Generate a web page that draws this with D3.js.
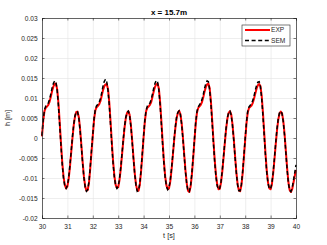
<!DOCTYPE html>
<html lang="en">

<head>
  <title>x = 15.7m</title>
  <meta charset="UTF-8">
  <style>
    body { margin: 0; background: #fff; }
    svg { display: block; font-family: "Liberation Sans", Arial, sans-serif; }
  </style>
</head>

<body>
  <div class="container"></div>
  <script src="https://cdn.jsdelivr.net/npm/d3@7"></script>
  <script>
    // sampling of both series: t = t0 + i * dt
    var t0 = 30, dt = 0.05;
    var tTicks = [30, 31, 32, 33, 34, 35, 36, 37, 38, 39, 40];
    var hTicks = [-0.02, -0.015, -0.01, -0.005, 0, 0.005, 0.01, 0.015, 0.02, 0.025, 0.03];
    var seriesNames = ['EXP', 'SEM'];

    var hExp = [
      0.0004, 0.0045, 0.0068, 0.0076, 0.0079, 0.0083, 0.0091, 0.0104, 0.0118, 0.0129,
      0.0135, 0.0136, 0.0121, 0.0085, 0.0036, -0.0016, -0.0063, -0.0098, -0.0118, -0.0126,
      -0.0121, -0.0102, -0.0072, -0.0036, 0.0000, 0.0032, 0.0054, 0.0065, 0.0066, 0.0052,
      0.0022, -0.0018, -0.0060, -0.0096, -0.0121, -0.0132, -0.0130, -0.0112, -0.0076, -0.0034,
      0.0006, 0.0046, 0.0069, 0.0077, 0.0080, 0.0084, 0.0092, 0.0105, 0.0119, 0.0129,
      0.0134, 0.0135, 0.0122, 0.0088, 0.0040, -0.0012, -0.0059, -0.0095, -0.0117, -0.0125,
      -0.0123, -0.0106, -0.0078, -0.0043, -0.0007, 0.0026, 0.0050, 0.0063, 0.0067, 0.0058,
      0.0032, -0.0006, -0.0048, -0.0087, -0.0116, -0.0131, -0.0132, -0.0117, -0.0084, -0.0042,
      0.0002, 0.0042, 0.0067, 0.0076, 0.0079, 0.0083, 0.0090, 0.0103, 0.0117, 0.0128,
      0.0134, 0.0136, 0.0124, 0.0090, 0.0042, -0.0010, -0.0058, -0.0096, -0.0119, -0.0128,
      -0.0126, -0.0109, -0.0080, -0.0045, -0.0008, 0.0025, 0.0050, 0.0063, 0.0068, 0.0060,
      0.0036, 0.0000, -0.0042, -0.0082, -0.0114, -0.0132, -0.0135, -0.0122, -0.0092, -0.0052,
      -0.0008, 0.0034, 0.0063, 0.0075, 0.0079, 0.0083, 0.0090, 0.0102, 0.0116, 0.0127,
      0.0134, 0.0136, 0.0125, 0.0092, 0.0045, -0.0007, -0.0055, -0.0093, -0.0117, -0.0128,
      -0.0127, -0.0111, -0.0083, -0.0048, -0.0011, 0.0023, 0.0049, 0.0063, 0.0067, 0.0059,
      0.0034, -0.0002, -0.0044, -0.0084, -0.0115, -0.0131, -0.0133, -0.0119, -0.0088, -0.0047,
      -0.0004, 0.0036, 0.0064, 0.0075, 0.0078, 0.0081, 0.0088, 0.0099, 0.0112, 0.0124,
      0.0132, 0.0135, 0.0130, 0.0105, 0.0062, 0.0012, -0.0040, -0.0083, -0.0112, -0.0126,
      -0.0128, -0.0116, -0.0090, -0.0055, -0.0017, 0.0018, 0.0045, 0.0061, 0.0066, 0.0062,
      0.0043, 0.0010, -0.0032, -0.0075, -0.0110, -0.0130, -0.0135, -0.0128, -0.0112, -0.0095,
      -0.0080
    ];

    var hSem = [
      0.0006, 0.0048, 0.0071, 0.0080, 0.0083, 0.0088, 0.0097, 0.0111, 0.0126, 0.0137,
      0.0143, 0.0139, 0.0117, 0.0078, 0.0028, -0.0023, -0.0069, -0.0102, -0.0120, -0.0126,
      -0.0119, -0.0099, -0.0068, -0.0032, 0.0004, 0.0035, 0.0056, 0.0066, 0.0065, 0.0050,
      0.0019, -0.0022, -0.0064, -0.0099, -0.0123, -0.0133, -0.0129, -0.0109, -0.0072, -0.0030,
      0.0009, 0.0049, 0.0072, 0.0081, 0.0084, 0.0089, 0.0098, 0.0113, 0.0129, 0.0141,
      0.0147, 0.0140, 0.0118, 0.0081, 0.0032, -0.0019, -0.0065, -0.0099, -0.0119, -0.0126,
      -0.0121, -0.0103, -0.0074, -0.0039, -0.0003, 0.0029, 0.0052, 0.0064, 0.0067, 0.0056,
      0.0029, -0.0010, -0.0052, -0.0090, -0.0118, -0.0133, -0.0131, -0.0114, -0.0080, -0.0038,
      0.0005, 0.0045, 0.0070, 0.0080, 0.0083, 0.0088, 0.0096, 0.0110, 0.0125, 0.0137,
      0.0144, 0.0140, 0.0120, 0.0083, 0.0034, -0.0017, -0.0064, -0.0100, -0.0121, -0.0129,
      -0.0124, -0.0106, -0.0076, -0.0041, -0.0004, 0.0028, 0.0052, 0.0064, 0.0068, 0.0058,
      0.0033, -0.0004, -0.0046, -0.0085, -0.0116, -0.0133, -0.0134, -0.0119, -0.0088, -0.0048,
      -0.0005, 0.0038, 0.0066, 0.0078, 0.0083, 0.0088, 0.0096, 0.0109, 0.0124, 0.0136,
      0.0143, 0.0141, 0.0121, 0.0085, 0.0037, -0.0014, -0.0061, -0.0098, -0.0120, -0.0129,
      -0.0125, -0.0108, -0.0079, -0.0044, -0.0007, 0.0026, 0.0051, 0.0064, 0.0067, 0.0057,
      0.0031, -0.0006, -0.0048, -0.0087, -0.0117, -0.0132, -0.0132, -0.0116, -0.0084, -0.0043,
      -0.0001, 0.0040, 0.0067, 0.0078, 0.0082, 0.0086, 0.0094, 0.0106, 0.0120, 0.0132,
      0.0140, 0.0141, 0.0128, 0.0098, 0.0054, 0.0004, -0.0046, -0.0087, -0.0114, -0.0127,
      -0.0127, -0.0113, -0.0086, -0.0051, -0.0013, 0.0022, 0.0048, 0.0063, 0.0067, 0.0061,
      0.0040, 0.0006, -0.0036, -0.0079, -0.0113, -0.0131, -0.0134, -0.0125, -0.0105, -0.0087,
      -0.0067
    ];

    var W = 327, H = 245;
    var margin = { top: 18, right: 31, bottom: 27, left: 42 };
    var w = W - margin.left - margin.right;
    var h = H - margin.top - margin.bottom;
    var axisColor = '#262626';

    var svg = d3.select('.container').append('svg')
      .attr('width', W)
      .attr('height', H);
    svg.append('rect').attr('width', W).attr('height', H).attr('fill', '#fff');

    var g = svg.append('g').attr('transform', 'translate(' + margin.left + ',' + margin.top + ')');

    var x = d3.scaleLinear().domain([30, 40]).range([0, w]);
    var y = d3.scaleLinear().domain([-0.02, 0.03]).range([h, 0]);

    var fmt = function (d) { return String(+d.toFixed(3)); };

    // grid
    g.append('g').attr('class', 'grid')
      .attr('transform', 'translate(0,' + h + ')')
      .call(d3.axisBottom(x).tickValues(tTicks).tickSize(-h).tickFormat(''));
    g.append('g').attr('class', 'grid')
      .call(d3.axisLeft(y).tickValues(hTicks).tickSize(-w).tickFormat(''));
    g.selectAll('.grid .domain').remove();
    g.selectAll('.grid line').attr('stroke', '#e3e3e3').attr('stroke-width', 0.6);

    // series
    var line = d3.line()
      .x(function (d, i) { return x(t0 + i * dt); })
      .y(function (d) { return y(d); });

    g.append('path').datum(hExp)
      .attr('d', line)
      .attr('fill', 'none')
      .attr('stroke', '#ff0000')
      .attr('stroke-width', 2)
      .attr('stroke-linejoin', 'round');

    g.append('path').datum(hSem)
      .attr('d', line)
      .attr('fill', 'none')
      .attr('stroke', '#000')
      .attr('stroke-width', 1.5)
      .attr('stroke-dasharray', '4,2.6');

    // box axes, ticks pointing in
    var ax = [
      g.append('g').attr('transform', 'translate(0,' + h + ')')
        .call(d3.axisBottom(x).tickValues(tTicks).tickSize(-2.5).tickPadding(6).tickFormat(d3.format('d'))),
      g.append('g')
        .call(d3.axisTop(x).tickValues(tTicks).tickSize(-2.5).tickFormat('')),
      g.append('g')
        .call(d3.axisLeft(y).tickValues(hTicks).tickSize(-2.5).tickPadding(4.3).tickFormat(fmt)),
      g.append('g').attr('transform', 'translate(' + w + ',0)')
        .call(d3.axisRight(y).tickValues(hTicks).tickSize(-2.5).tickFormat(''))
    ];
    ax.forEach(function (a) {
      a.select('.domain').attr('stroke', axisColor).attr('stroke-width', 0.7);
      a.selectAll('.tick line').attr('stroke', axisColor).attr('stroke-width', 0.6);
      a.selectAll('.tick text')
        .attr('fill', axisColor)
        .style('font-size', '6.6px')
        .style('font-family', '"Liberation Sans", Arial, sans-serif');
    });

    // title and labels
    svg.append('text')
      .attr('x', margin.left + w / 2)
      .attr('y', 15)
      .attr('text-anchor', 'middle')
      .attr('font-weight', 'bold')
      .attr('font-size', '8px')
      .style('fill', '#000')
      .text('x = 15.7m');

    svg.append('text')
      .attr('x', margin.left + w / 2)
      .attr('y', 238)
      .attr('text-anchor', 'middle')
      .attr('font-size', '7.3px')
      .style('fill', axisColor)
      .text('t [s]');

    svg.append('text')
      .attr('transform', 'translate(9.5,' + (margin.top + h / 2) + ') rotate(-90)')
      .attr('text-anchor', 'middle')
      .attr('font-size', '7.3px')
      .style('fill', axisColor)
      .text('h [m]');

    // legend
    var lg = svg.append('g').attr('transform', 'translate(242,25)');
    lg.append('rect')
      .attr('width', 48).attr('height', 21)
      .attr('fill', '#fff')
      .attr('stroke', axisColor)
      .attr('stroke-width', 0.6);
    var styles = [
      { color: '#ff0000', width: 2, dash: null },
      { color: '#000', width: 1.5, dash: '4,2.6' }
    ];
    seriesNames.forEach(function (name, i) {
      var yy = 5 + i * 10.5;
      lg.append('line')
        .attr('x1', 3).attr('x2', 28)
        .attr('y1', yy).attr('y2', yy)
        .attr('stroke', styles[i].color)
        .attr('stroke-width', styles[i].width)
        .attr('stroke-dasharray', styles[i].dash);
      lg.append('text')
        .attr('x', 29)
        .attr('y', yy + 2.3)
        .attr('font-size', '6.6px')
        .style('fill', axisColor)
        .text(name);
    });
  </script>
</body>

</html>
